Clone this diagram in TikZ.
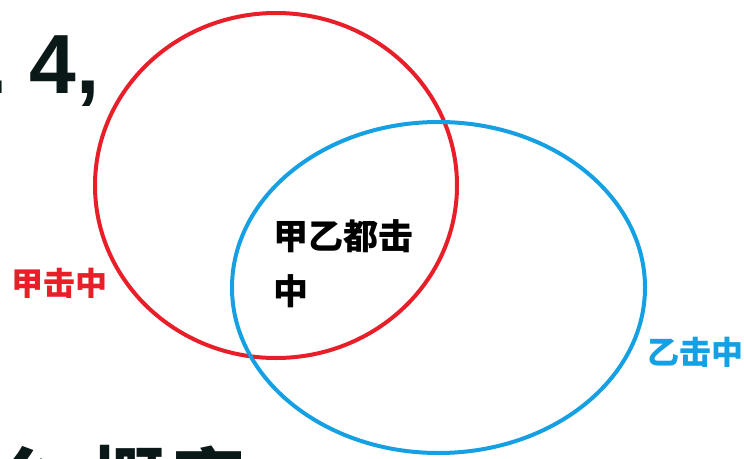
\documentclass[tikz,border=0pt]{standalone}
\usepackage{fontspec}
\usetikzlibrary{shapes.geometric}
\newfontfamily\cjk{Noto Sans CJK SC}
\newfontfamily\latn{Liberation Sans}
\definecolor{redc}{RGB}{232,30,40}
\definecolor{bluec}{RGB}{20,160,226}
\definecolor{darkc}{RGB}{10,24,24}
\begin{document}
\begin{tikzpicture}[x=1pt,y=-1pt,
  lab/.style={inner sep=0pt,font=\cjk\bfseries\fontsize{32}{32}\selectfont},
  mid/.style={inner sep=0pt,text=black,font=\cjk\bfseries\fontsize{35}{35}\selectfont,anchor=north west},
  big/.style={inner sep=0pt,text=darkc,font=\latn\bfseries\fontsize{84}{84}\selectfont},
  bot/.style={inner sep=0pt,text=darkc,font=\cjk\bfseries\fontsize{74}{74}\selectfont},
  ring/.style={line width=4pt,ellipse,inner sep=0pt}]
\useasboundingbox (0,0) rectangle (744,458);
\clip (0,0) rectangle (744,458);
% top-left cut text
\node[big,anchor=base] (dot) at (-4,93) {.};
\node[big,anchor=base] (four) at (53,93) {4};
\node[big,anchor=base] (comma) at (88,93) {,};
% bottom cut text
\node[bot] (m1) at (30,481) {么};
\node[bot] (m2) at (128,481) {概};
\node[bot] (m3) at (208,481) {率};
% circles
\node[ring,draw=redc,minimum width=362pt,minimum height=345pt] (A) at (276,185.5) {};
\node[ring,draw=bluec,minimum width=413pt,minimum height=331pt] (B) at (438.5,287.5) {};
% labels
\node[lab,text=redc] (la) at (60,283) {甲击中};
\node[lab,text=bluec] (lb) at (695,352) {乙击中};
\node[mid] (lab1) at (273,219) {甲乙都击};
\node[mid] (lab2) at (273,274) {中};
\end{tikzpicture}
\end{document}
